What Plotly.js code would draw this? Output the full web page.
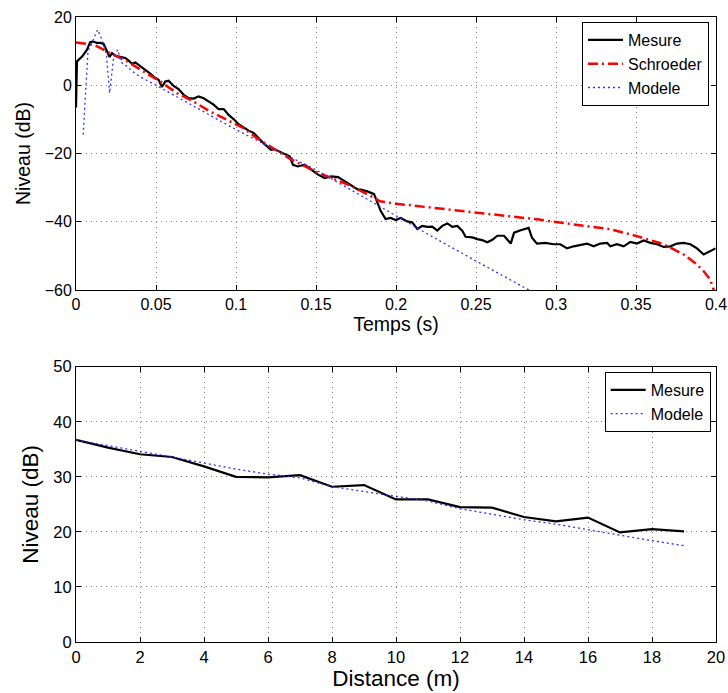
<!DOCTYPE html>
<html>
<head>
<meta charset="utf-8">
<script src="https://cdn.plot.ly/plotly-3.0.1.min.js"></script>
<style>html,body{margin:0;padding:0;background:#fff}#chart{width:728px;height:693px}</style>
</head>
<body>
<div id="chart"></div>
<script>
// ---- Top panel: decay vs time ----
const tMesure = [0.0000,0.0004,0.0006,0.0038,0.0069,0.0089,0.0110,0.0130,0.0152,0.0173,0.0194,0.0210,0.0225,0.0246,0.0277,0.0308,0.0329,0.0350,0.0371,0.0402,0.0433,0.0464,0.0496,0.0516,0.0537,0.0558,0.0579,0.0610,0.0641,0.0673,0.0704,0.0735,0.0766,0.0798,0.0829,0.0860,0.0891,0.0923,0.0954,0.0985,0.1016,0.1048,0.1079,0.1110,0.1141,0.1177,0.1219,0.1240,0.1293,0.1335,0.1356,0.1387,0.1429,0.1460,0.1513,0.1554,0.1596,0.1638,0.1679,0.1721,0.1763,0.1781,0.1821,0.1863,0.1883,0.1904,0.1935,0.1966,0.1998,0.2029,0.2070,0.2102,0.2133,0.2164,0.2196,0.2227,0.2258,0.2289,0.2321,0.2352,0.2383,0.2414,0.2435,0.2477,0.2508,0.2539,0.2571,0.2602,0.2633,0.2675,0.2717,0.2738,0.2779,0.2829,0.2850,0.2881,0.2933,0.2985,0.3027,0.3069,0.3110,0.3152,0.3194,0.3235,0.3277,0.3319,0.3340,0.3381,0.3423,0.3465,0.3506,0.3548,0.3590,0.3631,0.3673,0.3715,0.3756,0.3798,0.3840,0.3881,0.3923,0.3965,0.3996];
const niveauMesure = [-6.5,6.0,7.0,8.4,10.4,12.7,12.8,12.4,12.4,12.1,9.9,8.3,9.4,8.6,8.3,8.0,7.2,6.3,6.7,5.7,4.5,3.4,2.1,1.6,-0.5,1.1,1.3,-0.2,-1.1,-2.8,-3.8,-3.9,-3.3,-3.8,-4.8,-5.7,-7.0,-7.0,-8.7,-9.9,-11.4,-12.4,-13.3,-14.0,-15.5,-17.2,-18.9,-18.7,-19.9,-20.8,-23.3,-23.8,-23.3,-24.3,-26.2,-27.2,-26.7,-26.9,-28.2,-29.4,-30.6,-30.6,-31.1,-31.9,-34.3,-36.8,-39.2,-38.9,-39.5,-38.9,-39.9,-40.2,-42.1,-41.2,-41.5,-41.4,-42.6,-41.2,-40.5,-41.5,-41.2,-42.6,-44.4,-44.6,-45.1,-45.4,-46.0,-45.3,-44.1,-44.1,-46.4,-43.2,-42.5,-41.8,-44.7,-46.4,-46.2,-46.6,-46.6,-47.8,-47.2,-46.9,-46.4,-47.2,-46.4,-46.2,-47.2,-46.6,-47.2,-45.9,-46.4,-45.5,-46.2,-46.6,-47.4,-47.2,-46.4,-46.2,-46.6,-47.8,-49.6,-48.6,-47.8];

const tSchroeder = [0.0000,0.0110,0.0215,0.0320,0.0423,0.0527,0.0631,0.0735,0.0839,0.0944,0.1048,0.1131,0.1335,0.1500,0.1715,0.1860,0.1900,0.1998,0.2236,0.2500,0.2643,0.2883,0.2986,0.3190,0.3340,0.3506,0.3673,0.3798,0.3880,0.3923,0.3964,0.3985,0.3995];
const niveauSchroeder = [12.5,11.9,9.4,7.0,4.0,1.1,-2.3,-4.8,-7.7,-10.1,-12.6,-15.5,-21.5,-25.4,-29.4,-32.9,-34.0,-34.7,-35.9,-37.4,-38.0,-39.3,-40.0,-41.3,-42.2,-44.2,-46.6,-49.6,-52.5,-54.5,-57.0,-59.9,-62.0];

const tModele = [0.0045,0.0075,0.0105,0.0135,0.0160,0.0190,0.0210,0.0235,0.0260,0.0288,0.0320,0.0360,0.0400,0.0500,0.0750,0.1000,0.1250,0.1500,0.1750,0.2000,0.2250,0.2500,0.2750,0.2850];
const niveauModele = [-14.5,10.0,13.0,16.3,13.6,9.2,-2.3,8.1,10.4,6.5,5.5,3.8,2.5,0.0,-6.5,-13.0,-19.0,-24.8,-31.5,-38.3,-45.0,-51.5,-57.8,-60.5];

const timeTicks = [0,0.05,0.1,0.15,0.2,0.25,0.3,0.35,0.4];
const timeTickLabels = ["0","0.05","0.1","0.15","0.2","0.25","0.3","0.35","0.4"];
const levelTicksTop = [-60,-40,-20,0,20];

// ---- Bottom panel: level vs distance ----
const distance = [0,1,2,3,4,5,6,7,8,9,10,11,12,13,14,15,16,17,18,19];
const niveauMesureDist = [36.7,35.3,34.1,33.6,31.9,30.0,29.9,30.3,28.2,28.5,25.9,25.9,24.5,24.4,22.7,21.9,22.6,19.9,20.5,20.1];
const niveauModeleDist = [36.7,35.7,34.7,33.6,32.5,31.4,30.5,29.8,28.2,27.3,26.4,25.6,24.2,23.2,22.2,21.4,20.4,19.3,18.4,17.5];
const distanceTicks = [0,2,4,6,8,10,12,14,16,18,20];
const levelTicksBottom = [0,10,20,30,40,50];

const FONT = "Liberation Sans, Arial, Helvetica, sans-serif";
const BLUE_DOT = {color:"#2f2fff", width:1.3, dash:"2px,3px"};
const RED_DASHDOT = {color:"#ff0000", width:2.5, dash:"10px,4px,2px,4px"};
const BLACK = {color:"#000000", width:2.2};

const traces = [
  {x:tMesure, y:niveauMesure, name:"Mesure", mode:"lines", xaxis:"x", yaxis:"y", line:BLACK, legend:"legend"},
  {x:tSchroeder, y:niveauSchroeder, name:"Schroeder", mode:"lines", xaxis:"x", yaxis:"y", line:RED_DASHDOT, legend:"legend"},
  {x:tModele, y:niveauModele, name:"Modele", mode:"lines", xaxis:"x", yaxis:"y", line:BLUE_DOT, legend:"legend"},
  {x:distance, y:niveauMesureDist, name:"Mesure", mode:"lines", xaxis:"x2", yaxis:"y2", line:BLACK, legend:"legend2"},
  {x:distance, y:niveauModeleDist, name:"Modele", mode:"lines", xaxis:"x2", yaxis:"y2", line:BLUE_DOT, legend:"legend2"}
];

function axisCommon(tickSize) {
  return {
    showline:true, linecolor:"#000", linewidth:1, mirror:"ticks",
    ticks:"inside", ticklen:5, tickcolor:"#000", tickwidth:1,
    showgrid:true, gridcolor:"#808080", griddash:"1px,4px", gridwidth:1,
    zeroline:false, tickfont:{family:FONT, size:tickSize, color:"#000"}
  };
}

const layout = {
  width:728, height:693,
  margin:{l:76, r:12, t:17, b:51},
  paper_bgcolor:"#fff", plot_bgcolor:"#fff",
  font:{family:FONT, color:"#000"},
  showlegend:true,
  xaxis: Object.assign(axisCommon(16), {
    domain:[0,1], anchor:"y", range:[0,0.4], tickvals:timeTicks, ticktext:timeTickLabels,
    title:{text:"Temps (s)", font:{family:FONT, size:19.5}, standoff:5}
  }),
  yaxis: Object.assign(axisCommon(16), {
    domain:[0.5632,1], anchor:"x", range:[-60,20], tickvals:levelTicksTop,
    title:{text:"Niveau (dB)", font:{family:FONT, size:19.5}, standoff:8}
  }),
  xaxis2: Object.assign(axisCommon(16.5), {
    domain:[0,1], anchor:"y2", range:[0,20], tickvals:distanceTicks,
    title:{text:"Distance (m)", font:{family:FONT, size:22.5}, standoff:3}
  }),
  yaxis2: Object.assign(axisCommon(16.5), {
    domain:[0,0.4405], anchor:"x2", range:[0,50], tickvals:levelTicksBottom,
    title:{text:"Niveau (dB)", font:{family:FONT, size:22.5}, standoff:8}
  }),
  legend:{x:0.989, y:0.992, xanchor:"right", yanchor:"top", bgcolor:"#fff",
    bordercolor:"#000", borderwidth:1, font:{family:FONT, size:16}, itemwidth:35, tracegroupgap:0},
  legend2:{x:0.9917, y:0.432, xanchor:"right", yanchor:"top", bgcolor:"#fff",
    bordercolor:"#000", borderwidth:1, font:{family:FONT, size:16}, itemwidth:35, tracegroupgap:0}
};

Plotly.newPlot("chart", traces, layout, {displayModeBar:false, staticPlot:true});
</script>
</body>
</html>
